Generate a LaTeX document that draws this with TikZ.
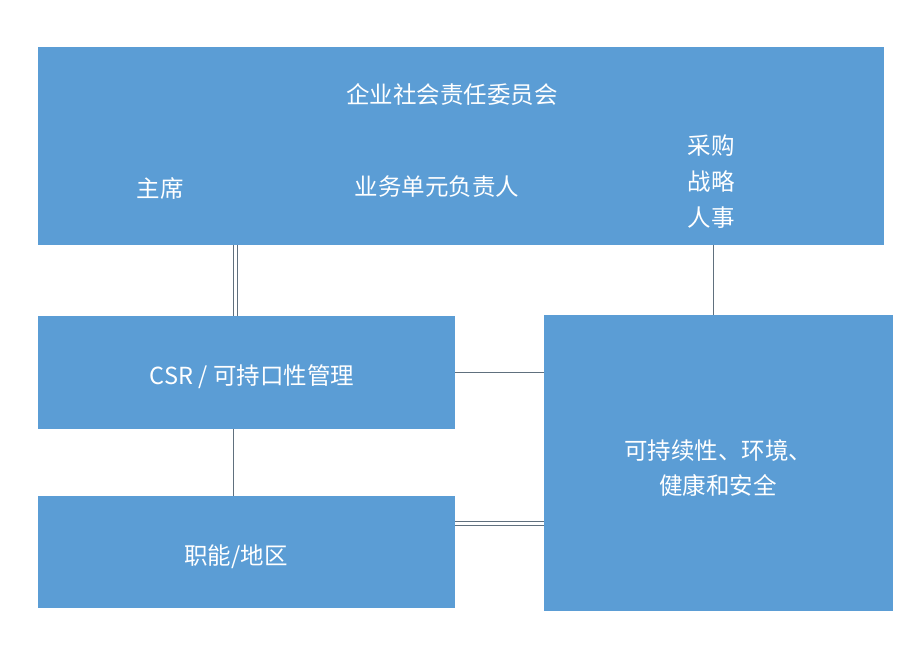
\documentclass[tikz,border=0pt]{standalone}
\usepackage{fontspec}
\setmainfont{Noto Sans CJK SC}
\usetikzlibrary{positioning}
\definecolor{boxblue}{RGB}{91,157,213}
\definecolor{linegray}{RGB}{96,112,126}

\begin{document}
\begin{tikzpicture}[x = 1pt, y = -1pt,
    box/.style = {fill = boxblue, inner sep = 0pt, outer sep = 0pt},
    lbl/.style = {text = white, font = \fontsize{23.5}{36}\selectfont, align = center},
    link/.style = {draw = linegray, line width = .8pt}]
      \useasboundingbox (0, 0) rectangle (922, 652);

      \node [box, minimum width = 846pt, minimum height = 198pt] (top) at (461, 146) {};
      \node [lbl] (board) at (452, 95) {企业社会责任委员会};
      \node [lbl] (chair) at (160, 189) {主席};
      \node [lbl] (bu) at (437, 187) {业务单元负责人};
      \node [lbl] (func3) at (711, 182) {采购\\战略\\人事};

      \node [box, minimum width = 417pt, minimum height = 113pt] (csr) at (246.5, 372.5) {};
      \node [lbl] (csrtxt) at (252, 377) {CSR / 可持口性管理};
      \node [box, minimum width = 417pt, minimum height = 112pt] (region) at (246.5, 552) {};
      \node [lbl] (regiontxt) at (236, 557) {职能/地区};
      \node [box, minimum width = 349pt, minimum height = 296pt] (hse) at (718.5, 463) {};
      \node [lbl, font = \fontsize{23.5}{35}\selectfont] (hsetxt) at (718, 468) {可持续性、环境、\\健康和安全};

      \draw [link] (top.south -| 233,0) -- (csr.north -| 233,0);
      \draw [link] (top.south -| 237,0) -- (csr.north -| 237,0);
      \draw [link] (top.south -| 713,0) -- (hse.north -| 713,0);
      \draw [link] (csr.south -| 233,0) -- (region.north -| 233,0);
      \draw [link] (csr.east) -- (csr.east -| hse.west);
      \draw [link] (region.east |- 0,521) -- (hse.west |- 0,521);
      \draw [link] (region.east |- 0,525) -- (hse.west |- 0,525);
    \end{tikzpicture}
\end{document}
